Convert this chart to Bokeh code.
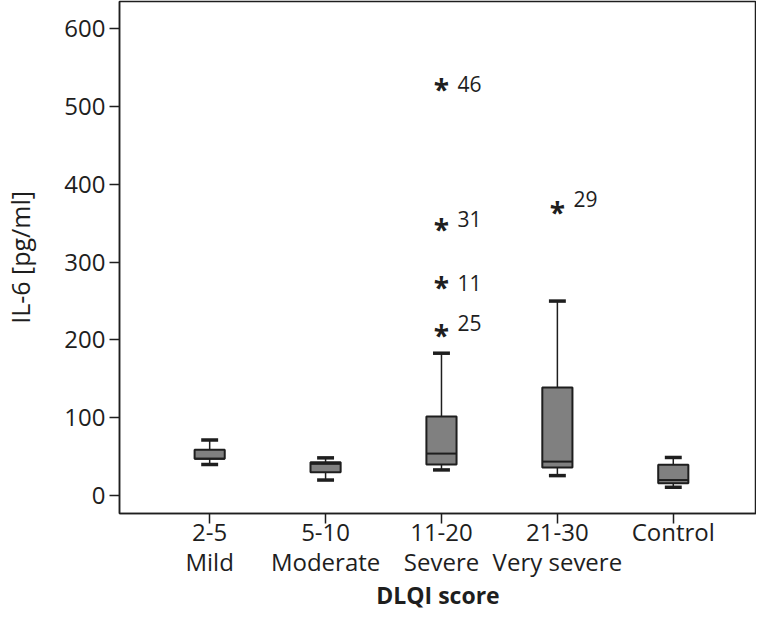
from bokeh.plotting import figure
from bokeh.models import Range1d, FixedTicker, ColumnDataSource
from bokeh.core.properties import value
from bokeh.embed import file_html
from bokeh.resources import INLINE

# ---- data ----
group_range = ["2-5", "5-10", "11-20", "21-30", "Control"]
group_desc = ["Mild", "Moderate", "Severe", "Very severe", ""]
whisker_low = [40, 20, 33, 25.7, 10.7]
q1 = [47.5, 30, 40, 36, 15.8]
median = [47.5, 40.8, 54, 43.7, 20]
q3 = [59, 43, 101.5, 139, 39.8]
whisker_high = [71.5, 48.5, 183, 250, 49]

outlier_group = [2, 2, 2, 2, 3]
outlier_value = [525, 345, 271, 209, 367.6]
outlier_label = ["46", "31", "11", "25", "29"]
label_dy = [-3, -8, -2, -10, -11]

y_ticks = [0, 100, 200, 300, 400, 500, 600]

FONT = "Open Sans"
INK = "#1e1e1e"

xs = list(range(len(group_range)))
tick_text = {i: (r + "\n" + d if d else r) for i, (r, d) in enumerate(zip(group_range, group_desc))}

p = figure(width=756, height=613, output_backend="svg", toolbar_location=None,
           x_range=Range1d(-0.778, 4.718), y_range=Range1d(-23, 635),
           min_border_left=113, min_border_right=0, min_border_top=1, min_border_bottom=93)
p.background_fill_color = "white"
p.border_fill_color = "white"
p.outline_line_color = INK
p.outline_line_width = 1.5
p.xgrid.visible = False
p.ygrid.visible = False

box_w = 0.26
cap_half = 0.073

src = ColumnDataSource(dict(x=xs, lo=whisker_low, q1=q1, med=median, q3=q3, hi=whisker_high,
                            cl=[x - cap_half for x in xs], cr=[x + cap_half for x in xs],
                            bl=[x - box_w / 2 for x in xs], br=[x + box_w / 2 for x in xs]))

# whiskers
p.segment(x0="x", y0="q3", x1="x", y1="hi", source=src, line_color=INK, line_width=1.5)
p.segment(x0="x", y0="lo", x1="x", y1="q1", source=src, line_color=INK, line_width=1.5)
# caps
p.segment(x0="cl", y0="hi", x1="cr", y1="hi", source=src, line_color=INK, line_width=3.5)
p.segment(x0="cl", y0="lo", x1="cr", y1="lo", source=src, line_color=INK, line_width=3.5)
# boxes
p.vbar(x="x", width=box_w, bottom="q1", top="q3", source=src,
       fill_color="#808080", line_color=INK, line_width=2)
# medians
p.segment(x0="bl", y0="med", x1="br", y1="med", source=src, line_color=INK, line_width=2)

# outliers
osrc = ColumnDataSource(dict(x=outlier_group, y=outlier_value, lab=outlier_label, dy=label_dy,
                             star=["*"] * len(outlier_label)))
p.text(x="x", y="y", text="star", source=osrc, text_font=value(FONT), text_font_size="28px",
       text_font_style="bold", text_color=INK, text_align="center",
       text_baseline="alphabetic", y_offset=2)
p.text(x="x", y="y", text="lab", source=osrc, text_font=value(FONT), text_font_size="21px",
       text_color=INK, text_align="left", text_baseline="middle", x_offset=16, y_offset="dy")

# axes
p.yaxis.ticker = FixedTicker(ticks=y_ticks)
p.yaxis.axis_label = "IL-6 [pg/ml]"
p.xaxis.ticker = FixedTicker(ticks=xs)
p.xaxis.major_label_overrides = tick_text
p.xaxis.axis_label = "DLQI score"

for ax in (p.xaxis[0], p.yaxis[0]):
    ax.axis_line_color = INK
    ax.axis_line_width = 1.5
    ax.major_tick_line_color = INK
    ax.major_tick_line_width = 1.5
    ax.major_tick_out = 10
    ax.major_tick_in = 0
    ax.minor_tick_line_color = None
    ax.major_label_text_font = FONT
    ax.major_label_text_color = INK
    ax.axis_label_text_font = FONT
    ax.axis_label_text_color = INK
    ax.axis_label_text_font_style = "normal"

p.yaxis.major_label_text_font_size = "24px"
p.yaxis.major_label_standoff = 4
p.yaxis.axis_label_text_font_size = "25px"
p.yaxis.axis_label_standoff = 24

p.xaxis.major_label_text_font_size = "24px"
p.xaxis.major_label_text_line_height = 0.92
p.xaxis.major_label_standoff = -9
p.xaxis.axis_label_text_font_size = "23px"
p.xaxis.axis_label_text_font_style = "bold"
p.xaxis.axis_label_standoff = -2

open("out.html", "w").write(file_html(p, INLINE))
